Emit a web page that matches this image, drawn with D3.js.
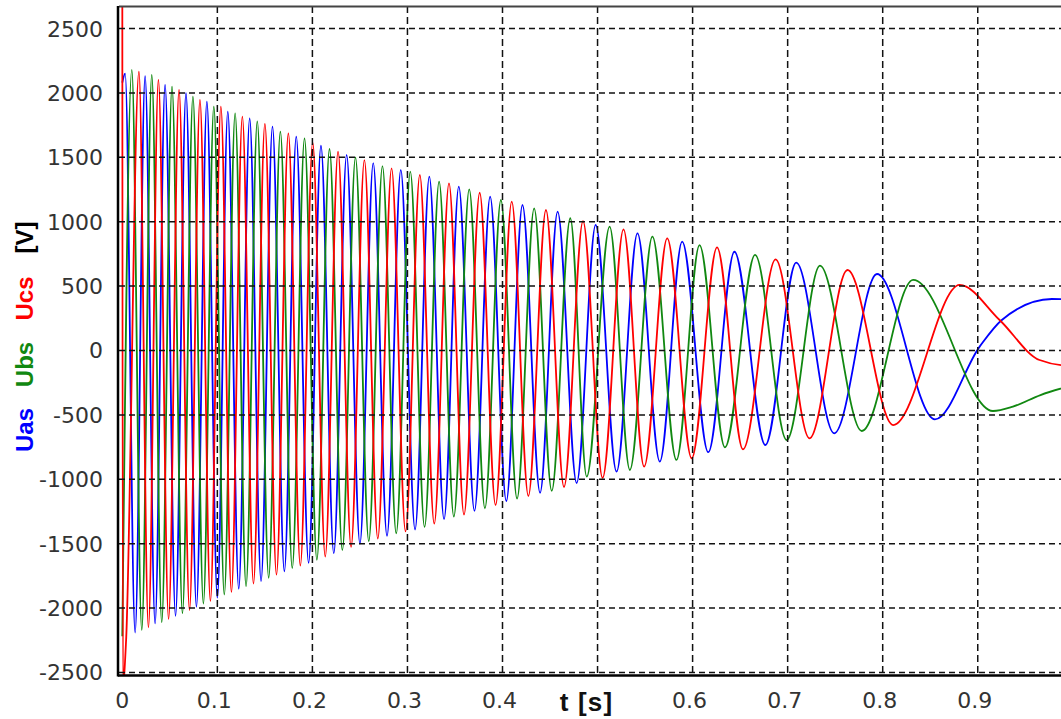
<!DOCTYPE html>
<html>
<head>
<meta charset="utf-8">
<script src="https://cdn.jsdelivr.net/npm/d3@7"></script>
<style>
    body { margin: 0; background: #fff; }
    svg { display: block; }
    .tick-label { font-family: "DejaVu Sans", sans-serif; font-size: 22px; fill: #333; }
    .grid line { stroke: #111; stroke-width: 1.5; }
    .axis-title { font-family: "Liberation Sans", Arial, sans-serif; font-weight: bold; }
</style>
</head>
<body>
<svg id="chart"></svg>
<script>
// tick values (0.5 label is hidden behind the axis title in the original)
const xTicks = [0, 0.1, 0.2, 0.3, 0.4, 0.5, 0.6, 0.7, 0.8, 0.9];
const xTickLabels = ["0", "0.1", "0.2", "0.3", "0.4", "", "0.6", "0.7", "0.8", "0.9"];
const yTicks = [-2500, -2000, -1500, -1000, -500, 0, 500, 1000, 1500, 2000, 2500];

// extrema: [t (s), u (V)]
const uas = [
    [0, 2080], [0.003, 2150], [0.0135, -2190], [0.024, 2130], [0.0345, -2120], [0.045, 2062],
    [0.056, -2060], [0.067, 1998], [0.078, -1990], [0.089, 1932], [0.100, -1920], [0.111, 1855],
    [0.1225, -1850], [0.134, 1803], [0.146, -1790], [0.158, 1738], [0.1705, -1715], [0.183, 1661],
    [0.196, -1650], [0.209, 1590], [0.2225, -1575], [0.236, 1520], [0.250, -1500], [0.264, 1455],
    [0.2785, -1440], [0.293, 1402], [0.308, -1390], [0.323, 1350], [0.3385, -1310], [0.354, 1272],
    [0.3705, -1245], [0.387, 1195], [0.404, -1170], [0.421, 1130], [0.4395, -1105], [0.458, 1078],
    [0.478, -1030], [0.498, 975], [0.520, -941], [0.542, 910], [0.5655, -863], [0.589, 845],
    [0.6165, -790], [0.644, 767], [0.6765, -734], [0.709, 682], [0.749, -643], [0.794, 594],
    [0.855, -535], [0.902, 30], [0.925, 235], [0.978, 400], [1.0, 396]
];
const ubs = [
    [0, -2220], [0.010, 2179], [0.0205, -2170], [0.031, 2140], [0.0415, -2110], [0.0523, 2050],
    [0.0633, -2040], [0.0743, 1971], [0.0853, -1965], [0.0963, 1894], [0.1073, -1895], [0.1187, 1842],
    [0.1302, -1830], [0.142, 1780], [0.154, -1765], [0.1663, 1700], [0.1788, -1690], [0.1917, 1648],
    [0.2047, -1625], [0.218, 1565], [0.2315, -1550], [0.2453, 1500], [0.2593, -1480], [0.2737, 1432],
    [0.2882, -1420], [0.303, 1389], [0.318, -1370], [0.3333, 1311], [0.3488, -1290], [0.365, 1252],
    [0.3815, -1225], [0.3983, 1169], [0.4153, -1150], [0.4333, 1104], [0.4518, -1090], [0.4713, 1027],
    [0.4886, -980], [0.5127, 962], [0.534, -928], [0.5577, 884], [0.583, -850], [0.6073, 819],
    [0.634, -752], [0.6657, 742], [0.699, -695], [0.734, 659], [0.778, -625], [0.832, 548],
    [0.916, -470], [0.937, -436], [0.966, -346], [1.0, -270]
];
const ucs = [
    [0, 2900], [0.0006, -2600], [0.004, -2250], [0.0175, 2165], [0.0275, -2150], [0.038, 2101],
    [0.0487, -2085], [0.0597, 2023], [0.0707, -2016], [0.0817, 1946], [0.0927, -1945], [0.1037, 1894],
    [0.1148, -1875], [0.1263, 1816], [0.138, -1810], [0.150, 1760], [0.1622, -1740], [0.1747, 1687],
    [0.1873, -1670], [0.2003, 1614], [0.2135, -1600], [0.227, 1545], [0.2407, -1525], [0.2547, 1478],
    [0.2688, -1460], [0.2833, 1415], [0.298, -1405], [0.313, 1363], [0.3282, -1345], [0.3437, 1298],
    [0.3595, -1275], [0.376, 1225], [0.3927, -1200], [0.4097, 1156], [0.4272, -1130], [0.4457, 1091],
    [0.4647, -1060], [0.4847, 1005], [0.5053, -990], [0.5273, 941], [0.549, -902], [0.5733, 871],
    [0.599, -837], [0.6257, 801], [0.653, -768], [0.6873, 708], [0.723, -682], [0.763, 625],
    [0.811, -579], [0.881, 509], [0.923, 237], [0.965, -74], [0.995, -116], [1.0, -115]
];

const seriesList = [
    { name: "Uas", data: uas, color: "#0000ff" },
    { name: "Ubs", data: ubs, color: "#118811" },
    { name: "Ucs", data: ucs, color: "#ff0000" }
];

const config = {
    svgWidth: 1061,
    svgHeight: 719,
    plotLeft: 119,
    plotRight: 1061,
    plotTop: 6,
    plotBottom: 675.5
};

const svg = d3.select("#chart")
    .attr("width", config.svgWidth)
    .attr("height", config.svgHeight);

const x = d3.scaleLinear().domain([0, 1]).range([122.3, 1072.8]);
const y = d3.scaleLinear().domain([-2500, 2500]).range([672.4, 28.6]);

svg.append("clipPath").attr("id", "plot-clip")
    .append("rect")
    .attr("x", config.plotLeft)
    .attr("y", config.plotTop)
    .attr("width", config.plotRight - config.plotLeft)
    .attr("height", config.plotBottom - config.plotTop);

// curves
const line = d3.line()
    .x(d => x(d[0]))
    .y(d => y(d[1]))
    .curve(d3.curveMonotoneX);

svg.append("g")
    .attr("clip-path", "url(#plot-clip)")
    .selectAll("path")
    .data(seriesList)
    .join("path")
    .attr("d", d => line(d.data))
    .attr("fill", "none")
    .attr("stroke", d => d.color)
    .attr("stroke-width", 1.8);

// dashed grid on top of the curves
const grid = svg.append("g").attr("class", "grid");
grid.selectAll(".gx")
    .data(xTicks.filter(d => d > 0))
    .join("line")
    .attr("class", "gx")
    .attr("x1", d => x(d)).attr("x2", d => x(d))
    .attr("y1", config.plotTop).attr("y2", config.plotBottom)
    .attr("stroke-dasharray", "7,4");
grid.selectAll(".gy")
    .data(yTicks)
    .join("line")
    .attr("class", "gy")
    .attr("x1", config.plotLeft).attr("x2", config.plotRight)
    .attr("y1", d => y(d)).attr("y2", d => y(d))
    .attr("stroke-dasharray", "6,4");

// frame
svg.append("line")
    .attr("x1", config.plotLeft).attr("x2", config.plotRight)
    .attr("y1", config.plotTop + 0.5).attr("y2", config.plotTop + 0.5)
    .attr("stroke", "#444").attr("stroke-width", 2);
svg.append("line")
    .attr("x1", config.plotLeft - 1).attr("x2", config.plotRight)
    .attr("y1", config.plotBottom).attr("y2", config.plotBottom)
    .attr("stroke", "#000").attr("stroke-width", 2.5);
svg.append("line")
    .attr("x1", config.plotLeft - 1).attr("x2", config.plotLeft - 1)
    .attr("y1", config.plotTop).attr("y2", config.plotBottom + 1)
    .attr("stroke", "#000").attr("stroke-width", 2.5);

// tick labels
svg.append("g")
    .selectAll("text")
    .data(yTicks)
    .join("text")
    .attr("class", "tick-label")
    .attr("x", 103)
    .attr("y", d => y(d))
    .attr("dy", "0.36em")
    .attr("text-anchor", "end")
    .text(d => d);

svg.append("g")
    .selectAll("text")
    .data(xTicks.filter((d, i) => xTickLabels[i] !== ""))
    .join("text")
    .attr("class", "tick-label")
    .attr("x", d => x(d) - (d > 0 ? 3 : 0))
    .attr("y", 708)
    .attr("text-anchor", "middle")
    .text(d => xTickLabels[xTicks.indexOf(d)]);

// axis titles
svg.append("text")
    .attr("class", "axis-title")
    .attr("x", 586.5)
    .attr("y", 711)
    .attr("text-anchor", "middle")
    .attr("font-size", 26)
    .attr("letter-spacing", 1.2)
    .attr("fill", "#111")
    .text("t [s]");

const yTitle = [
    { text: "Uas", color: "#0000ff", cy: 430 },
    { text: "Ubs", color: "#118811", cy: 364.5 },
    { text: "Ucs", color: "#ff0000", cy: 298.5 },
    { text: "[V]", color: "#000", cy: 237.5 }
];
svg.append("g")
    .selectAll("text")
    .data(yTitle)
    .join("text")
    .attr("class", "axis-title")
    .attr("transform", d => `translate(33, ${d.cy}) rotate(-90)`)
    .attr("text-anchor", "middle")
    .attr("font-size", 24)
    .attr("fill", d => d.color)
    .attr("fill", d => d.color)
    .text(d => d.text);
</script>
</body>
</html>
